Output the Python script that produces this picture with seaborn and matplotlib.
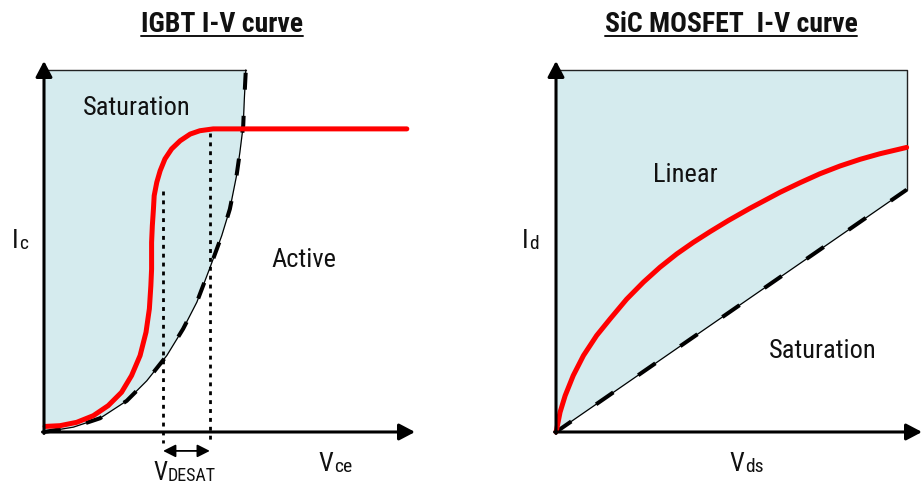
import matplotlib
matplotlib.use("Agg")
import matplotlib.pyplot as plt
from matplotlib import font_manager
import seaborn as sns
import pandas as pd

# ---------------- data (arbitrary units 0..10) ----------------
# IGBT: boundary between saturation and active region
igbt_edge_v = [0, 0.79, 1.51, 2.23, 2.77, 3.31, 3.75, 4.12, 4.47, 4.79, 5.01, 5.19, 5.28, 5.37, 5.40, 5.44]
igbt_edge_i = [0, 0.13, 0.37, 0.84, 1.38, 2.06, 2.78, 3.50, 4.42, 5.29, 6.01, 6.91, 7.54, 8.26, 8.98, 9.76]
# IGBT I-V curve (red)
igbt_vce = [0.03, 0.43, 0.88, 1.33, 1.73, 2.09, 2.36, 2.59, 2.75, 2.84, 2.88, 2.90, 2.90, 2.92,
            2.95, 2.97, 3.04, 3.13, 3.26, 3.44, 3.67, 3.94, 4.20, 4.56, 5.46, 9.78]
igbt_ic = [0.15, 0.17, 0.26, 0.44, 0.71, 1.07, 1.52, 2.06, 2.69, 3.32, 3.94, 4.39, 5.11, 5.56,
           6.01, 6.37, 6.73, 7.04, 7.36, 7.63, 7.85, 8.03, 8.12, 8.17, 8.17, 8.17]
vdesat_lo, vdesat_hi = 3.21, 4.47

# SiC MOSFET: boundary line and I-V curve
sic_edge_v = [0, 9.58]
sic_edge_i = [0, 6.53]
sic_vds = [0, 0.02, 0.11, 0.25, 0.47, 0.75, 1.11, 1.48, 1.93, 2.39, 2.84, 3.30, 3.75, 4.21,
           4.71, 5.30, 6.12, 6.67, 7.21, 7.76, 8.31, 8.85, 9.58]
sic_id = [0, 0.08, 0.53, 0.98, 1.52, 2.06, 2.60, 3.05, 3.58, 4.04, 4.44, 4.80, 5.11, 5.40,
          5.70, 6.03, 6.46, 6.72, 6.96, 7.17, 7.35, 7.50, 7.67]
region_top = 9.76
axis_end = 10.0

SHADE = "#d5ebee"
RED = "#ff0000"
INK = "#111111"

sns.set_theme(style="white")

# prefer a condensed face like the original drawing; otherwise shrink a regular one
available = {f.name for f in font_manager.fontManager.ttflist}
narrow = [n for n in ("Liberation Sans Narrow", "Roboto Condensed", "Open Sans Condensed",
                      "Arial Narrow") if n in available]
if narrow:
    plt.rcParams['font.family'] = [narrow[0], 'Liberation Sans', 'DejaVu Sans']
    k, k_title = 1.0, 1.0
else:
    plt.rcParams['font.family'] = ['Liberation Sans', 'DejaVu Sans']
    k, k_title = 0.92, 0.86

fig = plt.figure(figsize=(9.23, 4.85), dpi=100)
ax1 = fig.add_axes([0, 0, 461 / 923, 1])
ax2 = fig.add_axes([461 / 923, 0, 462 / 923, 1])
ax1.set_xlim(-1.186, 11.24)
ax1.set_ylim(-1.402, 11.671)
ax2.set_xlim(-2.596, 10.027)
ax2.set_ylim(-1.402, 11.671)
for ax in (ax1, ax2):
    ax.set_axis_off()

arrow_kw = dict(arrowstyle="-|>,head_length=0.95,head_width=0.5", mutation_scale=10,
                lw=2.2, color="black", shrinkA=0, shrinkB=0)


def draw_axes(ax):
    ax.annotate("", xy=(axis_end, 0), xytext=(-0.04, 0), arrowprops=arrow_kw, zorder=6)
    ax.annotate("", xy=(0, axis_end), xytext=(0, -0.04), arrowprops=arrow_kw, zorder=6)


def label(ax, x, y, main, sub, size_main, size_sub):
    t = ax.text(x, y, main, fontsize=size_main * k, ha="left", va="baseline", color=INK)
    ax.annotate(sub, xy=(1, 0), xycoords=t, xytext=(0.6, 0), textcoords="offset points",
                fontsize=size_sub * k, ha="left", va="bottom", color=INK)


# ---------------- IGBT panel ----------------
ax1.fill_betweenx(igbt_edge_i, 0, igbt_edge_v, color=SHADE, lw=0, zorder=1)
ax1.plot([0, igbt_edge_v[-1]], [region_top, region_top], color="#222222", lw=1.0, zorder=2)
ax1.plot(igbt_edge_v, igbt_edge_i, color="black", lw=0.9, zorder=3)
ax1.plot(igbt_edge_v, igbt_edge_i, color="black", lw=2.9, linestyle=(0, (4.2, 6.5)),
         solid_capstyle="butt", zorder=3)
for v, top in ((vdesat_lo, 6.50), (vdesat_hi, 8.05)):
    ax1.plot([v, v], [top, -0.30], color="black", lw=2.0, linestyle=(0, (1.4, 1.8)),
             clip_on=False, zorder=2)
igbt_df = pd.DataFrame({"Vce": igbt_vce, "Ic": igbt_ic})
sns.lineplot(data=igbt_df, x="Vce", y="Ic", sort=False, estimator=None, color=RED,
             lw=3.6, ax=ax1, zorder=5)
draw_axes(ax1)
ax1.annotate("", xy=(vdesat_lo, -0.51), xytext=(vdesat_hi, -0.51),
             arrowprops=dict(arrowstyle="<|-|>,head_length=0.75,head_width=0.38", mutation_scale=10,
                             lw=1.3, color="black", shrinkA=0, shrinkB=0))

ax1.text(2.51, 8.57, "Saturation", fontsize=19 * k, ha="center", va="baseline", color=INK)
ax1.text(7.01, 4.47, "Active", fontsize=19 * k, ha="center", va="baseline", color=INK)
label(ax1, -0.86, 4.99, "I", "c", 19, 14)
label(ax1, 7.41, -1.02, "V", "ce", 19, 14)
label(ax1, 2.94, -1.27, "V", "DESAT", 18, 13)
t1 = ax1.text(4.80, 10.81, "IGBT I-V curve", fontsize=20 * k_title, fontweight="bold",
              ha="center", va="baseline", color=INK)

# ---------------- SiC MOSFET panel ----------------
ax2.fill_between(sic_edge_v, sic_edge_i, region_top, color=SHADE, lw=0, zorder=1)
ax2.plot([0, sic_edge_v[-1], sic_edge_v[-1]], [region_top, region_top, sic_edge_i[-1]],
         color="#222222", lw=1.0, zorder=2)
ax2.plot(sic_edge_v, sic_edge_i, color="black", lw=0.9, zorder=3)
ax2.plot(sic_edge_v, sic_edge_i, color="black", lw=2.9, linestyle=(0.6, (5.2, 7.5)),
         solid_capstyle="butt", zorder=3)
sic_df = pd.DataFrame({"Vds": sic_vds, "Id": sic_id})
sns.lineplot(data=sic_df, x="Vds", y="Id", sort=False, estimator=None, color=RED,
             lw=3.6, ax=ax2, zorder=5)
draw_axes(ax2)

ax2.text(3.52, 6.77, "Linear", fontsize=19 * k, ha="center", va="baseline", color=INK)
ax2.text(7.30, 2.02, "Saturation", fontsize=19 * k, ha="center", va="baseline", color=INK)
label(ax2, -0.94, 4.99, "I", "d", 19, 14)
label(ax2, 4.75, -1.02, "V", "ds", 19, 14)
t2 = ax2.text(4.78, 10.81, "SiC MOSFET  I-V curve", fontsize=20 * k_title, fontweight="bold",
              ha="center", va="baseline", color=INK)

# underline the two titles
fig.canvas.draw()
renderer = fig.canvas.get_renderer()
for t in (t1, t2):
    bb = t.get_window_extent(renderer)
    y_line = 1 - 37 / 485
    fig.add_artist(plt.Line2D([bb.x0 / fig.bbox.width, bb.x1 / fig.bbox.width],
                              [y_line, y_line], transform=fig.transFigure,
                              color=INK, lw=1.4))

fig.savefig("out.png", dpi=100)
